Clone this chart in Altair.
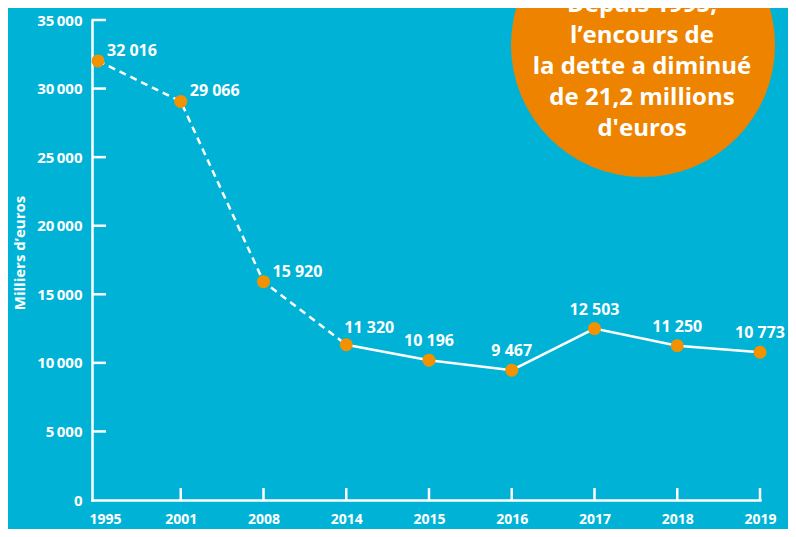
import altair as alt
import pandas as pd

# ---- data ----
years = ["1995", "2001", "2008", "2014", "2015", "2016", "2017", "2018", "2019"]
values = [32016, 29066, 15920, 11320, 10196, 9467, 12503, 11250, 10773]
value_labels = ["32 016", "29 066", "15 920", "11 320", "10 196", "9 467", "12 503", "11 250", "10 773"]
y_ticks = [0, 5000, 10000, 15000, 20000, 25000, 30000, 35000]
callout_lines = ["Depuis 1995,", "l\u2019encours de", "la dette a diminu\u00e9", "de 21,2 millions", "d'euros"]
y_title = "Milliers d\u2019euros"

df = pd.DataFrame({"i": list(range(len(years))), "year": years, "value": values, "label": value_labels})
ticks_df = pd.DataFrame({"value": y_ticks})
one = pd.DataFrame({"a": [0]})

BG = "#00b3d6"
ORANGE_PT = "#f39200"
ORANGE_CIRC = "#ee8300"
WHITE = "#ffffff"
FONT = "Open Sans"

W, H = 668, 480

xscale = alt.Scale(domain=[-0.0725, 8], nice=False, zero=False)
yscale = alt.Scale(domain=[0, 35000], nice=False, zero=True)

year_arr = "[" + ",".join("'%s'" % y for y in years) + "]"

x_axis = alt.Axis(
    values=list(range(len(years))), labelExpr=year_arr + "[datum.value]", title=None,
    ticks=False, grid=False, domainColor=WHITE, domainWidth=2.5, domainCap="square",
    labelColor=WHITE, labelFont=FONT, labelFontWeight="bold", labelFontSize=14,
    labelPadding=12, labelFlush=False,
    labelOffset={"condition": {"test": "datum.value == 0", "value": 7}, "value": 0},
)
y_axis = alt.Axis(
    values=y_ticks, labelExpr="replace(format(datum.value, ','), ',', '\u2009')", title=None,
    ticks=False, grid=False, domainColor=WHITE, domainWidth=2.5, domainCap="square",
    labelColor=WHITE, labelFont=FONT, labelFontWeight="bold", labelFontSize=15,
    labelPadding=10, labelFlush=False,
)

X = alt.X("i:Q", scale=xscale, axis=x_axis)
Y = alt.Y("value:Q", scale=yscale, axis=y_axis)

base = alt.Chart(df)

dashed = base.transform_filter("datum.i <= 3").mark_line(
    color=WHITE, strokeWidth=2.5, strokeDash=[7, 5]
).encode(x=X, y=Y)
solid = base.transform_filter("datum.i >= 3").mark_line(
    color=WHITE, strokeWidth=2.5
).encode(x=X, y=Y)
points = base.mark_circle(size=169, color=ORANGE_PT, opacity=1).encode(x=X, y=Y)

txt = dict(color=WHITE, font=FONT, fontWeight="bold", fontSize=16, baseline="middle")
labels_a = base.transform_filter("datum.i <= 2").mark_text(align="left", dx=9, dy=-10, **txt).encode(
    x=X, y=Y, text="label:N",
)
labels_b = base.transform_filter("datum.i == 3").mark_text(align="center", dx=23, dy=-17, **txt).encode(
    x=X, y=Y, text="label:N",
)
labels_c = base.transform_filter("datum.i >= 4").mark_text(align="center", dy=-19, **txt).encode(
    x=X, y=Y, text="label:N",
)

x_ticks = base.transform_filter("datum.i >= 1").mark_rule(color=WHITE, strokeWidth=2.5).encode(
    x=X, y=alt.value(H), y2=alt.value(H - 12),
)
y_tick_marks = alt.Chart(ticks_df).transform_filter("datum.value > 0").mark_rule(
    color=WHITE, strokeWidth=2.5
).encode(y=Y, x=alt.value(0), x2=alt.value(14))

title_text = alt.Chart(one).mark_text(
    text=y_title, angle=270, align="center", baseline="middle",
    color=WHITE, font=FONT, fontWeight="bold", fontSize=15,
).encode(x=alt.value(-72), y=alt.value(233))

bubble = alt.Chart(one).mark_circle(size=264 * 264, color=ORANGE_CIRC, opacity=1).encode(
    x=alt.value(551), y=alt.value(25)
)
bubble_text = alt.Chart(one).mark_text(
    text=callout_lines, lineHeight=31, align="center", baseline="middle",
    color=WHITE, font=FONT, fontWeight="bold", fontSize=24,
).encode(x=alt.value(550), y=alt.value(-15))

chart = alt.layer(
    dashed, solid, x_ticks, y_tick_marks, points, labels_a, labels_b, labels_c,
    title_text, bubble, bubble_text,
).properties(
    width=W, height=H,
    background=BG,
    padding={"left": 84, "top": 12, "right": 28, "bottom": 29},
    autosize=alt.AutoSizeParams(type="none"),
).configure_view(stroke=None)

chart.save("out.html", embed_options={"renderer": "svg", "actions": False})
